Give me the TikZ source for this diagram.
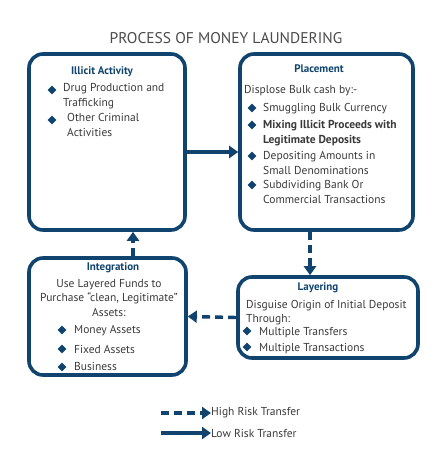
\documentclass[tikz,border=0pt]{standalone}
\usepackage{fontspec}
\setmainfont{PT Sans}
\usetikzlibrary{arrows.meta,positioning,shapes.geometric}
\definecolor{mlblue}{RGB}{16,68,110}
\definecolor{mltext}{RGB}{58,58,58}
\definecolor{mltitle}{RGB}{75,75,75}

\begin{document}
\begin{tikzpicture}[
    x=1pt, y=-1pt,
    box/.style={draw=mlblue, line width=3.6pt, rounded corners=14pt, inner sep=0pt},
    head/.style={text=mlblue, font=\fontsize{11}{13}\selectfont\bfseries, inner sep=0pt, anchor=base},
    txt/.style={text=mltext, font=\fontsize{11.5}{14.5}\selectfont, inner sep=0pt, anchor=base west, align=left},
    bul/.style={diamond, fill=mlblue, inner sep=0pt, minimum size=9pt},
    arrow/.style={draw=mlblue, line width=3.4pt, -{Triangle[length=9pt,width=12pt]}},
    risky/.style={arrow, dash pattern=on 8pt off 5pt}
  ]
    \useasboundingbox (0,0) rectangle (437,462);
    \node[text=mltitle, font=\fontsize{15.5}{17}\selectfont, inner sep=0pt] (title) at (226,38) {PROCESS OF MONEY LAUNDERING};

    % the four stages
    \node[box, minimum width=156pt, minimum height=176pt] (illicit) at (107,142) {};
    \node[box, minimum width=173pt, minimum height=176pt] (place) at (326.5,142) {};
    \node[box, minimum width=157pt, minimum height=117pt] (integ) at (107.5,316.5) {};
    \node[box, minimum width=180pt, minimum height=81pt] (layer) at (328,317.5) {};

    % Illicit Activity (multi-line texts sit on their last baseline)
    \node[head] (illicithead) at (102,75) {Illicit Activity};
    \node[bul] (i1) at (52,90) {};
    \node[txt] (i1t) at (63,106.5) {Drug Production and\\Trafficking};
    \node[bul] (i2) at (52,120) {};
    \node[txt] (i2t) at (67,136.5) {Other Criminal\\Activities};

    % Placement
    \node[head] (placehead) at (319,73) {Placement};
    \node[txt] (placeintro) at (244,94) {Displose Bulk cash by:-};
    \node[bul] (p1) at (252,108) {};
    \node[txt] (p1t) at (263,112) {Smuggling Bulk Currency};
    \node[bul] (p2) at (252,125) {};
    \node[txt, font=\fontsize{11.5}{14.5}\selectfont\bfseries] (p2t) at (263,143.5) {Mixing Illicit Proceeds with\\Legitimate Deposits};
    \node[bul] (p3) at (252,156) {};
    \node[txt] (p3t) at (263,174.5) {Depositing Amounts in\\Small Denominations};
    \node[bul] (p4) at (252,185) {};
    \node[txt] (p4t) at (263,203.5) {Subdividing Bank Or\\Commercial Transactions};

    % Layering
    \node[head] (layerhead) at (318,290) {Layering};
    \node[txt] (layerintro) at (246,322.5) {Disguise Origin of Initial Deposit\\Through:};
    \node[bul] (l1) at (247,331) {};
    \node[txt] (l1t) at (259,335) {Multiple Transfers};
    \node[bul] (l2) at (247,347) {};
    \node[txt] (l2t) at (259,351) {Multiple Transactions};

    % Integration
    \node[head] (integhead) at (113,270) {Integration};
    \node[txt, anchor=base, align=center] (integintro) at (109,316) {Use Layered Funds to\\Purchase “clean, Legitimate”\\Assets:};
    \node[bul] (g1) at (62,330) {};
    \node[txt] (g1t) at (74,333) {Money Assets};
    \node[bul] (g2) at (62,349) {};
    \node[txt] (g2t) at (74,353) {Fixed Assets};
    \node[bul] (g3) at (62,367) {};
    \node[txt] (g3t) at (74,370) {Business};

    % transfers
    \draw[arrow] ([yshift=-10pt]illicit.east) -- ([yshift=-10pt]place.west);
    \draw[risky] (place.south -| 310,0) -- (layer.north -| 310,0);
    \draw[risky] (layer.west) -- (integ.east);
    \draw[risky] (integ.north -| 133,0) -- (illicit.south -| 133,0);

    % legend
    \coordinate (hr) at (161,413);
    \coordinate (lr) at (161,433);
    \node[txt, anchor=west] (hrt) at (211,413) {High Risk Transfer};
    \node[txt, anchor=west] (lrt) at (211,433) {Low Risk Transfer};
    \draw[risky] (hr) -- (hrt.west);
    \draw[arrow] (lr) -- (lrt.west);
\end{tikzpicture}
\end{document}
